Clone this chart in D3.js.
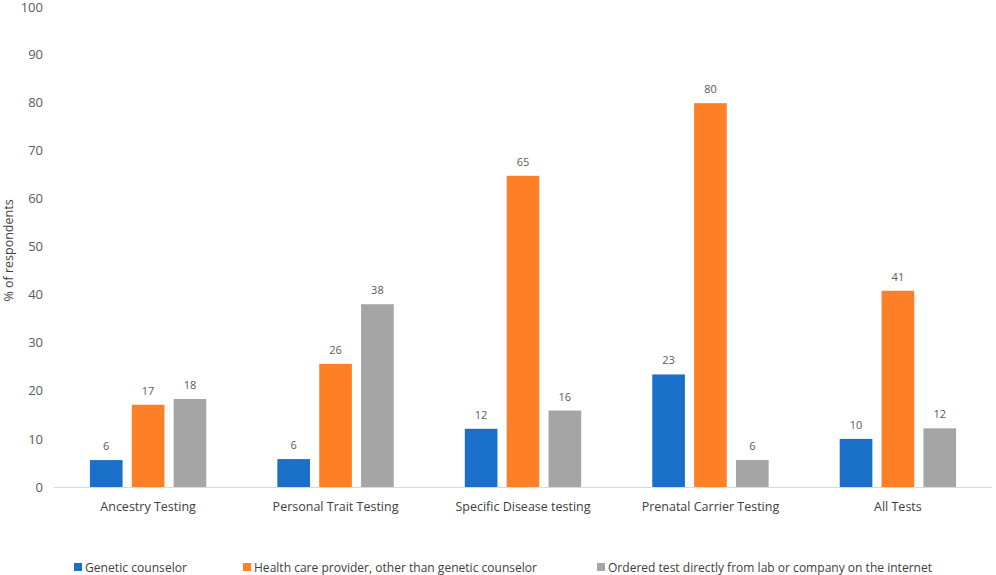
<!DOCTYPE html>
<html>
<head>
<meta charset="utf-8">
<script src="https://cdn.jsdelivr.net/npm/d3@7"></script>
<style>
  body { margin: 0; background: #fff; }
  svg text { font-family: 'Open Sans', sans-serif; }
</style>
</head>
<body>
<figure style="margin:0"></figure>
<script>
const width = 996
const height = 575

const categories = ['Ancestry Testing', 'Personal Trait Testing', 'Specific Disease testing', 'Prenatal Carrier Testing', 'All Tests']
const seriesNames = ['Genetic counselor', 'Health care provider, other than genetic counselor', 'Ordered test directly from lab or company on the internet']
const counselor = [5.6, 5.8, 12.1, 23.4, 10.0]
const provider = [17.1, 25.6, 64.7, 79.8, 40.8]
const direct = [18.3, 38.0, 15.9, 5.6, 12.2]
const yTicks = [0, 10, 20, 30, 40, 50, 60, 70, 80, 90, 100]
const colors = ['#1a70c8', '#ff7f27', '#a5a5a5']

const seriesValues = [counselor, provider, direct]
const margin = { top: 6, right: 4, bottom: 88, left: 54 }

const svg = d3.select('figure').append('svg')
  .attr('width', width)
  .attr('height', height)

const x0 = d3.scaleBand()
  .domain(categories)
  .range([margin.left, width - margin.right])
  .paddingInner(0.33)
  .paddingOuter(0.167)

const x1 = d3.scaleBand()
  .domain(d3.range(seriesNames.length))
  .range([0, x0.bandwidth()])
  .paddingInner(0.22)
  .paddingOuter(0.11)

const y = d3.scaleLinear()
  .domain([0, 100])
  .range([height - margin.bottom, margin.top])

// y axis: labels only
const yAxis = svg.append('g')
  .attr('transform', `translate(${margin.left - 11},0)`)
  .call(d3.axisLeft(y).tickValues(yTicks).tickSize(0).tickPadding(0))
yAxis.select('.domain').remove()
yAxis.selectAll('text')
  .attr('fill', '#595959')
  .style('font-size', '13px')
yAxis.selectAll('.tick').filter(d => d === 100)
  .select('text').attr('dy', '0.45em')

svg.append('text')
  .attr('transform', `translate(13,${(y(0) + y(100)) / 2 + 4}) rotate(-90)`)
  .attr('text-anchor', 'middle')
  .attr('fill', '#404040')
  .style('font-size', '12.5px')
  .text('% of respondents')

// baseline
svg.append('line')
  .attr('x1', margin.left)
  .attr('x2', width - margin.right)
  .attr('y1', y(0) + 0.5)
  .attr('y2', y(0) + 0.5)
  .attr('stroke', '#d9d9d9')
  .attr('stroke-width', 1)

const rows = categories.map((c, i) => ({
  cat: c,
  vals: seriesValues.map((s, k) => ({ k, v: s[i] }))
}))

const group = svg.selectAll('g.cat')
  .data(rows)
  .join('g')
  .attr('class', 'cat')
  .attr('transform', d => `translate(${x0(d.cat)},0)`)

group.selectAll('rect')
  .data(d => d.vals)
  .join('rect')
  .attr('x', d => x1(d.k))
  .attr('y', d => y(d.v))
  .attr('width', x1.bandwidth())
  .attr('height', d => y(0) - y(d.v))
  .attr('fill', d => colors[d.k])

group.selectAll('text.val')
  .data(d => d.vals)
  .join('text')
  .attr('class', 'val')
  .attr('x', d => x1(d.k) + x1.bandwidth() / 2)
  .attr('y', d => y(d.v) - 10)
  .attr('text-anchor', 'middle')
  .attr('fill', '#595959')
  .style('font-size', '11px')
  .text(d => Math.round(d.v))

// category labels
svg.append('g')
  .selectAll('text')
  .data(categories)
  .join('text')
  .attr('x', d => x0(d) + x0.bandwidth() / 2)
  .attr('y', y(0) + 24)
  .attr('text-anchor', 'middle')
  .attr('fill', '#404040')
  .style('font-size', '12.5px')
  .text(d => d)

// legend (text squeezed like the original narrow font)
const legendX = [74, 243, 597]
const legendW = [102, 283, 324]
const legend = svg.append('g')
  .selectAll('g')
  .data(seriesNames)
  .join('g')
  .attr('transform', (d, i) => `translate(${legendX[i]},567)`)

legend.append('rect')
  .attr('x', 0)
  .attr('y', -4)
  .attr('width', 8)
  .attr('height', 8)
  .attr('fill', (d, i) => colors[i])

legend.append('text')
  .attr('x', 11)
  .attr('y', 4.5)
  .attr('fill', '#404040')
  .style('font-size', '13px')
  .attr('textLength', (d, i) => legendW[i])
  .attr('lengthAdjust', 'spacingAndGlyphs')
  .text(d => d)
</script>
</body>
</html>
